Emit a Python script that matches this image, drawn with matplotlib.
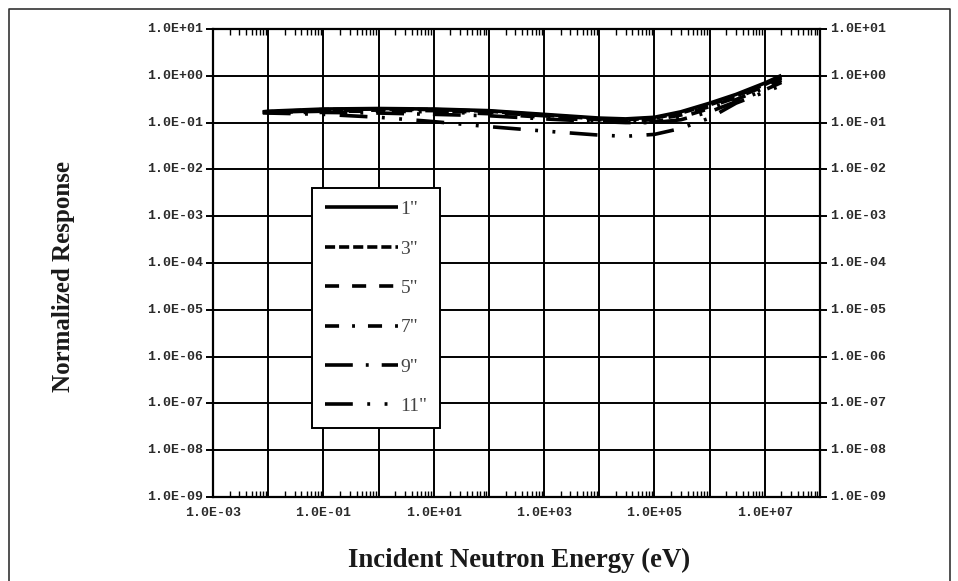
import numpy as np
import matplotlib
matplotlib.use("Agg")
import matplotlib.pyplot as plt
from matplotlib.ticker import FixedLocator, LogLocator, NullFormatter
from matplotlib.lines import Line2D

# Incident neutron energy (eV) sample points shared by every sphere size
energy = [8e-3, 1e-2, 1e-1, 1e0, 1e1, 1e2, 1e3, 1e4, 3e4, 1e5, 3e5, 1e6, 3e6, 1e7, 2e7]

# Normalized response for each moderator diameter
resp_1in = [0.17, 0.175, 0.195, 0.20, 0.195, 0.18, 0.15, 0.125, 0.12, 0.13, 0.17, 0.26, 0.40, 0.70, 1.02]
resp_3in = [0.165, 0.17, 0.19, 0.195, 0.19, 0.175, 0.145, 0.12, 0.115, 0.125, 0.16, 0.24, 0.37, 0.65, 0.95]
resp_5in = [0.165, 0.165, 0.18, 0.185, 0.18, 0.165, 0.14, 0.115, 0.11, 0.115, 0.145, 0.22, 0.34, 0.60, 0.88]
resp_7in = [0.165, 0.165, 0.175, 0.175, 0.17, 0.155, 0.13, 0.11, 0.105, 0.105, 0.13, 0.20, 0.31, 0.55, 0.80]
resp_9in = [0.165, 0.165, 0.165, 0.16, 0.15, 0.14, 0.12, 0.105, 0.10, 0.10, 0.115, 0.17, 0.28, 0.50, 0.72]
resp_11in = [0.165, 0.16, 0.15, 0.13, 0.105, 0.082, 0.066, 0.054, 0.051, 0.056, 0.075, 0.125, 0.26, 0.45, 0.62]

labels = ['1"', '3"', '5"', '7"', '9"', '11"']

x_tick_vals = [1e-3, 1e-1, 1e1, 1e3, 1e5, 1e7]
x_tick_text = ["1.0E-03", "1.0E-01", "1.0E+01", "1.0E+03", "1.0E+05", "1.0E+07"]
y_tick_vals = [1e1, 1e0, 1e-1, 1e-2, 1e-3, 1e-4, 1e-5, 1e-6, 1e-7, 1e-8, 1e-9]
y_tick_text = ["1.0E+01", "1.0E+00", "1.0E-01", "1.0E-02", "1.0E-03", "1.0E-04",
               "1.0E-05", "1.0E-06", "1.0E-07", "1.0E-08", "1.0E-09"]

series = [resp_1in, resp_3in, resp_5in, resp_7in, resp_9in, resp_11in]
styles = [
    (0, ()),
    (0, (2.8, 1.1)),
    (0, (3.9, 3.6)),
    (0, (3.9, 3.6, 0.8, 3.6)),
    (0, (7.7, 3.6, 0.8, 3.6)),
    (0, (7.7, 4.0, 0.8, 4.0, 0.8, 4.0)),
]

W, H = 958, 581
fig = plt.figure(figsize=(W / 100, H / 100), dpi=100)
fig.patch.set_facecolor("white")

ax = fig.add_axes([213 / W, 1 - 497 / H, 607 / W, 468 / H])
ax.set_xscale("log")
ax.set_yscale("log")
ax.set_xlim(1e-3, 1e8)
ax.set_ylim(1e-9, 1e1)

for vals, ls, lab in zip(series, styles, labels):
    ax.plot(energy, vals, color="black", lw=2.6, linestyle=ls, label=lab,
            solid_capstyle="butt", dash_capstyle="butt", zorder=3)

# decade grid
ax.xaxis.set_major_locator(FixedLocator([10.0 ** k for k in range(-3, 9)]))
ax.yaxis.set_major_locator(FixedLocator(y_tick_vals))
ax.grid(True, which="major", color="black", lw=1.4)
ax.set_xticklabels([])
ax.set_yticklabels([])

# minor ticks along top and bottom
ax.xaxis.set_minor_locator(LogLocator(base=10, subs=np.arange(2, 10), numticks=30))
ax.xaxis.set_minor_formatter(NullFormatter())
ax.tick_params(axis="x", which="minor", direction="in", length=4, width=1.0,
               top=True, bottom=True)
ax.tick_params(axis="x", which="major", length=0)
ax.tick_params(axis="y", which="major", direction="inout", length=10, width=1.4,
               left=True, right=True)
ax.tick_params(axis="y", which="minor", left=False, right=False)
for s in ax.spines.values():
    s.set_linewidth(1.6)

mono = "Liberation Mono"
for v, t in zip(x_tick_vals, x_tick_text):
    ax.text(v, 10 ** -9.22, t, ha="center", va="top", fontsize=9.5,
            family=mono, fontweight="bold", color="#2a2a2a")
for v, t in zip(y_tick_vals, y_tick_text):
    ax.text(10 ** -3.18, v, t, ha="right", va="center", fontsize=9.5,
            family=mono, fontweight="bold", color="#2a2a2a")
    ax.text(10 ** 8.18, v, t, ha="left", va="center", fontsize=9.5,
            family=mono, fontweight="bold", color="#2a2a2a")

fig.text(519 / W, 1 - 560 / H, "Incident Neutron Energy (eV)", ha="center",
         va="center", fontsize=19.3, family="Liberation Serif", fontweight="bold",
         color="#1a1a1a")
fig.text(64 / W, 1 - 277 / H, "Normalized Response", ha="center", va="center",
         rotation=90, fontsize=18, family="Liberation Serif", fontweight="bold",
         color="#1a1a1a")

leg = ax.legend(loc="upper left", bbox_to_anchor=(312 / W, 1 - 188 / H),
                bbox_transform=fig.transFigure, frameon=True, fancybox=False,
                handlelength=3.75, handletextpad=0.15, labelspacing=1.12,
                borderpad=0.65, borderaxespad=0,
                prop={"family": "Liberation Serif", "size": 14})
leg.get_frame().set_edgecolor("black")
leg.get_frame().set_linewidth(1.4)
leg.get_frame().set_facecolor("white")
leg.get_frame().set_alpha(1)
for t in leg.get_texts():
    t.set_color("#444444")

# outer frame around the figure (left, top and right edges)
fig.add_artist(Line2D([9 / W, 9 / W, 950 / W, 950 / W], [0, 1 - 9 / H, 1 - 9 / H, 0],
                      transform=fig.transFigure, color="#333333", lw=1.2))

fig.savefig("out.png", dpi=100)
